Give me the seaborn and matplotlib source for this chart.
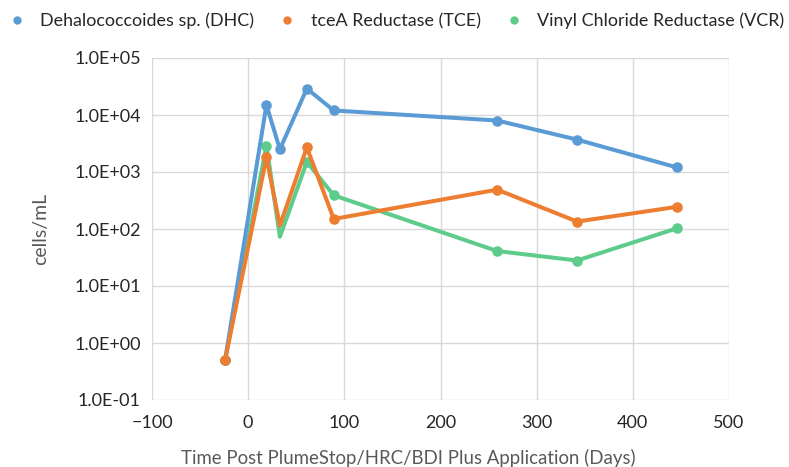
import matplotlib
matplotlib.use("Agg")
import matplotlib.pyplot as plt
import matplotlib.ticker as mticker
from matplotlib.lines import Line2D
import seaborn as sns
import pandas as pd
import numpy as np

days = [-24, 19, 33, 61, 89, 259, 342, 446]
dhc = [0.5, 1.5e4, 2.5e3, 2.9e4, 1.2e4, 8.0e3, 3.7e3, 1.2e3]
tce = [0.5, 1.8e3, 115, 2.7e3, 150, 490, 135, 245]
vcr = [0.5, 2.9e3, 73, 1.5e3, 390, 41, 28, 103]
series_names = ["Dehalococcoides sp. (DHC)", "tceA Reductase (TCE)", "Vinyl Chloride Reductase (VCR)"]
colors = ["#5B9BD5", "#ED7D31", "#5DCB8A"]
# points where the marker is hidden in the reference (index of day)
hidden_marker = {series_names[1]: [2], series_names[2]: [2]}

sns.set_theme(style="white")
plt.rcParams['font.family'] = ['Lato', 'DejaVu Sans']

fig = plt.figure(figsize=(7.89, 4.67), dpi=100)
ax = fig.add_axes([152/789, 1 - 400/467, (729-152)/789, (400-58)/467])

values = {series_names[0]: dhc, series_names[1]: tce, series_names[2]: vcr}
zorders = {series_names[0]: 3, series_names[1]: 4, series_names[2]: 2}
for name, col in zip(series_names, colors):
    df = pd.DataFrame({"days": days, "cells": values[name]})
    before = len(ax.lines)
    sns.lineplot(data=df, x="days", y="cells", ax=ax, color=col, linewidth=2.9,
                 marker="o", markersize=7.6, markeredgewidth=0, zorder=zorders[name])
    line = ax.lines[before]
    if name in hidden_marker:
        line.set_markevery([i for i in range(len(days)) if i not in hidden_marker[name]])

ax.set_yscale("log")
ax.set_ylim(0.1, 1e5)
ax.set_xlim(-100, 500)
ax.xaxis.set_major_locator(mticker.MultipleLocator(100))
ax.yaxis.set_major_locator(mticker.LogLocator(base=10, numticks=10))
ax.yaxis.set_minor_locator(mticker.NullLocator())
ax.yaxis.set_major_formatter(mticker.FuncFormatter(lambda v, p: f"{v:.1E}"))
ax.grid(True, which="major", color="#D9D9D9", linewidth=1)
for s in ax.spines.values():
    s.set_visible(False)
ax.tick_params(axis="both", labelsize=13, colors="#262626", length=0)
ax.tick_params(axis="x", pad=11)
ax.tick_params(axis="y", pad=8)
ax.set_xlabel("Time Post PlumeStop/HRC/BDI Plus Application (Days)", fontsize=13.4,
              color="#595959")
ax.xaxis.set_label_coords(0.444, -0.142)
ax.set_ylabel("cells/mL", fontsize=14, color="#595959", labelpad=18)

handles = [Line2D([], [], linestyle="none", marker="o", markersize=6, markeredgewidth=0, color=c)
           for c in colors]
fig.legend(handles, series_names, loc="upper left", bbox_to_anchor=(-0.017, 1.0), ncol=3,
           frameon=False, fontsize=12.9, handletextpad=0.3, columnspacing=0.85,
           labelcolor="#262626", borderaxespad=0.3)

fig.savefig("out.png", dpi=100)
